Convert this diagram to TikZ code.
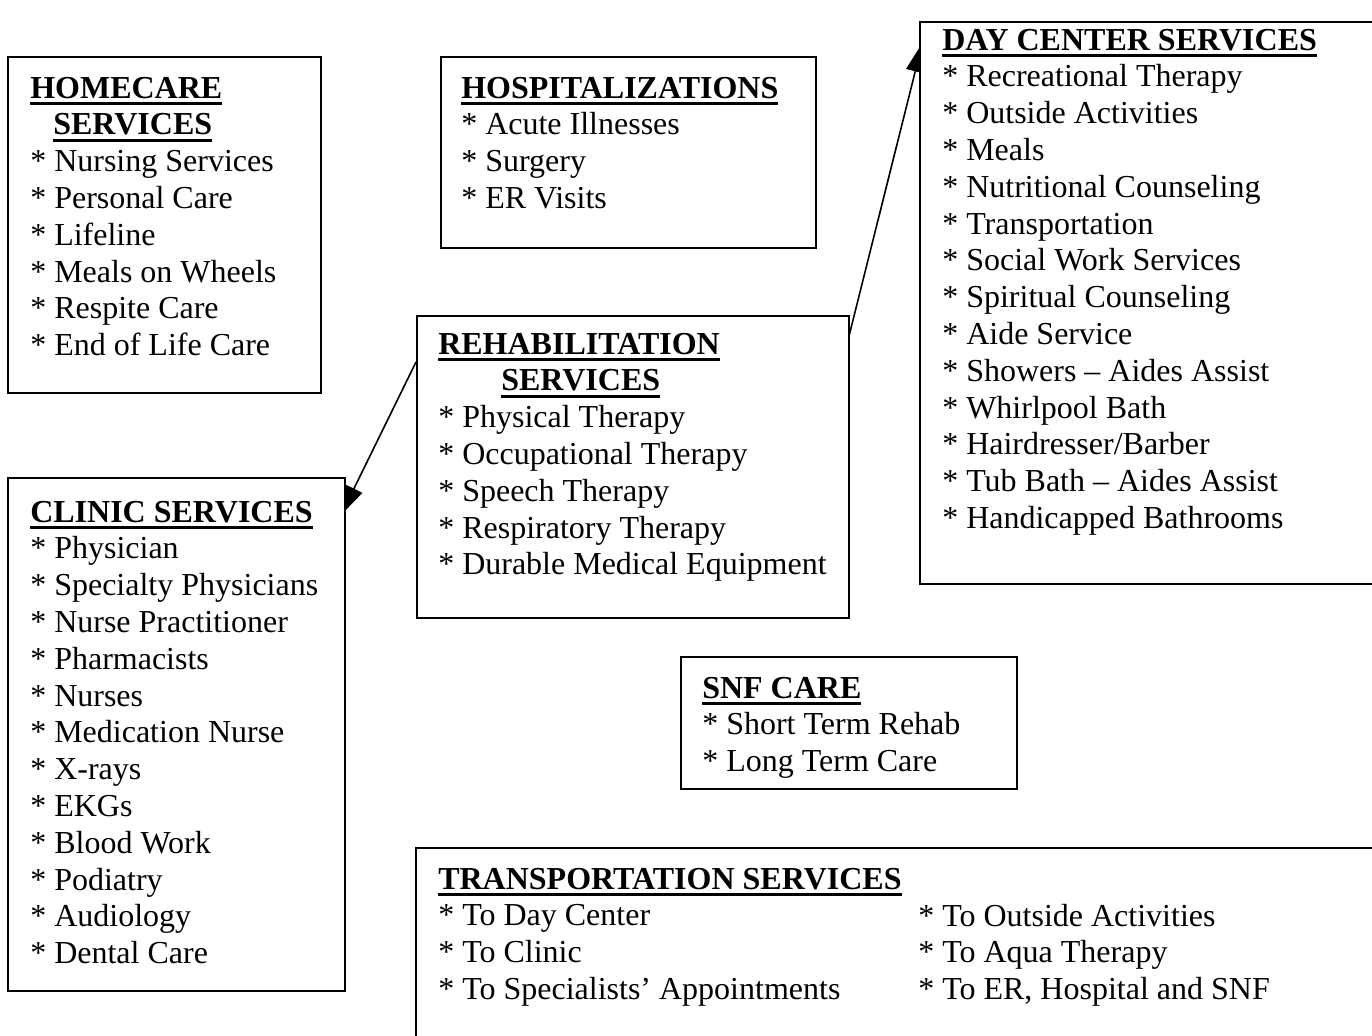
\documentclass[tikz,border=0pt]{standalone}
\usepackage{fontspec}
\setmainfont{Liberation Serif}
\usetikzlibrary{arrows.meta,fit}
\newsavebox\ulbox
\newcommand\ulx[1]{\sbox\ulbox{\bfseries #1}\rlap{\rule[-5.6pt]{\wd\ulbox}{2.4pt}}\usebox\ulbox}
\newcommand\boxlines[1]{\vtop{\baselineskip=27.6pt\lineskip=0pt\lineskiplimit=-100pt\halign{##\hfil\cr#1\crcr}}}
\tikzset{
  boxst/.style={draw, line width=1.5pt, fill=white, inner sep=0pt},
  txt/.style={anchor=base west, inner sep=0pt},
  arr/.style={line width=1.2pt, -{Triangle[length=22pt,width=14pt]}}
}
\begin{document}
\begin{tikzpicture}[x=0.75pt,y=-0.75pt,font=\fontsize{24pt}{27.6pt}\selectfont]
\path[use as bounding box] (0,0) rectangle (1372,1036);
\clip (0,0) rectangle (1372,1036);
% connectors (drawn first, boxes cover the tips)
\coordinate (a1s) at (416,362);
\coordinate (a1e) at (341,515);
\coordinate (a2s) at (848,340);
\coordinate (a2e) at (922.4,42.8);
\draw[arr] (a1s) -- (a1e);
\draw[arr] (a2s) -- (a2e);
% boxes
\path (8,57) coordinate (h1) (321,393) coordinate (h2)
      (441,57) coordinate (p1) (816,248) coordinate (p2)
      (417,316) coordinate (r1) (849,618) coordinate (r2)
      (920,22) coordinate (d1) (1390,584) coordinate (d2)
      (8,478) coordinate (c1) (345,991) coordinate (c2)
      (681,657) coordinate (s1) (1017,789) coordinate (s2)
      (416,848) coordinate (t1) (1390,1060) coordinate (t2);
\node[boxst, fit=(h1)(h2)] (home) {};
\node[boxst, fit=(p1)(p2)] (hosp) {};
\node[boxst, fit=(r1)(r2)] (rehab) {};
\node[boxst, fit=(d1)(d2)] (day) {};
\node[boxst, fit=(c1)(c2)] (clinic) {};
\node[boxst, fit=(s1)(s2)] (snf) {};
\node[boxst, fit=(t1)(t2)] (trans) {};
% texts
\node[txt] (hometxt) at (30,98) {\boxlines{\ulx{HOMECARE}\cr
\hspace*{17.25pt}\ulx{SERVICES}\cr
* Nursing Services\cr
* Personal Care\cr
* Lifeline\cr
* Meals on Wheels\cr
* Respite Care\cr
* End of Life Care}};
\node[txt] (hosptxt) at (461,98) {\boxlines{\ulx{HOSPITALIZATIONS}\cr
* Acute Illnesses\cr
* Surgery\cr
* ER Visits}};
\node[txt] (rehabtxt) at (438,354) {\boxlines{\ulx{REHABILITATION}\cr
\hspace*{47.25pt}\ulx{SERVICES}\cr
* Physical Therapy\cr
* Occupational Therapy\cr
* Speech Therapy\cr
* Respiratory Therapy\cr
* Durable Medical Equipment}};
\node[txt] (daytxt) at (942,50) {\boxlines{\ulx{DAY CENTER SERVICES}\cr
* Recreational Therapy\cr
* Outside Activities\cr
* Meals\cr
* Nutritional Counseling\cr
* Transportation\cr
* Social Work Services\cr
* Spiritual Counseling\cr
* Aide Service\cr
* Showers – Aides Assist\cr
* Whirlpool Bath\cr
* Hairdresser/Barber\cr
* Tub Bath – Aides Assist\cr
* Handicapped Bathrooms}};
\node[txt] (clinictxt) at (30,522) {\boxlines{\ulx{CLINIC SERVICES}\cr
* Physician\cr
* Specialty Physicians\cr
* Nurse Practitioner\cr
* Pharmacists\cr
* Nurses\cr
* Medication Nurse\cr
* X-rays\cr
* EKGs\cr
* Blood Work\cr
* Podiatry\cr
* Audiology\cr
* Dental Care}};
\node[txt] (snftxt) at (702,698) {\boxlines{\ulx{SNF CARE}\cr
* Short Term Rehab\cr
* Long Term Care}};
\node[txt] (transtxt) at (438,889) {\boxlines{\ulx{TRANSPORTATION SERVICES}\cr
* To Day Center\cr
* To Clinic\cr
* To Specialists’ Appointments}};
\node[txt] (transtxtb) at (918,926) {\boxlines{* To Outside Activities\cr
* To Aqua Therapy\cr
* To ER, Hospital and SNF}};
\end{tikzpicture}
\end{document}
